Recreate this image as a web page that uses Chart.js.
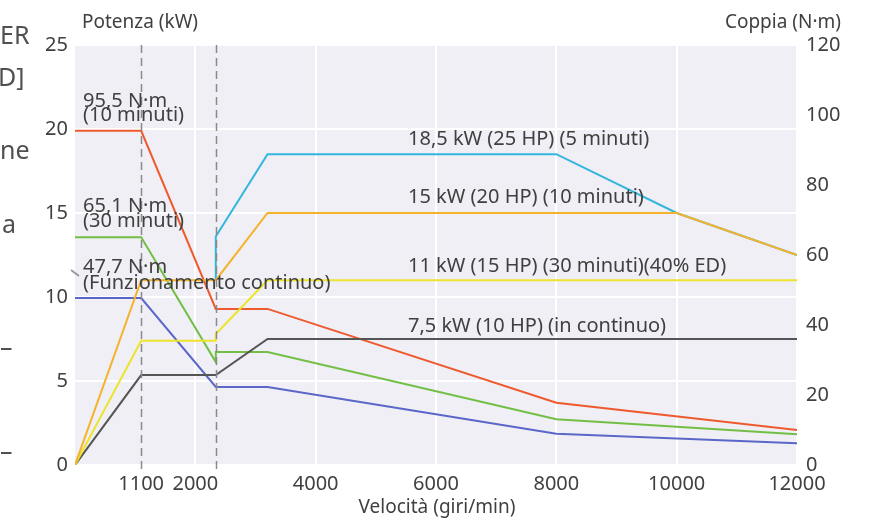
<!DOCTYPE html>
<html>
<head>
<meta charset="utf-8">
<script src="https://cdn.jsdelivr.net/npm/chart.js@4/dist/chart.umd.min.js"></script>
<style>
  html, body { margin: 0; padding: 0; background: #fff; }
  #wrap { position: relative; width: 875px; height: 519px; }
</style>
</head>
<body>
<div id="wrap"><canvas id="motorChart" width="875" height="519"></canvas></div>
<script>
// === dati ===
const speedTicks = [1100, 2000, 4000, 6000, 8000, 10000, 12000];
const dashedSpeeds = [1100, 2340];

// coppia (N·m), asse destro
const torque10Speed = [0, 1100, 2340, 3200, 8000, 12000];
const torque10Nm = [95.5, 95.5, 44.6, 44.6, 17.8, 10.0];
const torque30Speed = [0, 1100, 2340, 2340, 3200, 8000, 12000];
const torque30Nm = [65.1, 65.1, 29.4, 32.3, 32.3, 13.1, 8.8];
const torqueContSpeed = [0, 1100, 2340, 3200, 8000, 12000];
const torqueContNm = [47.7, 47.7, 22.3, 22.3, 8.9, 6.2];

// potenza (kW), asse sinistro
const power5Speed = [2340, 2340, 3200, 8000, 10000, 12000];
const power5Kw = [11.0, 13.6, 18.5, 18.5, 15.0, 12.5];
const power10Speed = [0, 1100, 2340, 3200, 10000, 12000];
const power10Kw = [0, 11.0, 11.0, 15.0, 15.0, 12.5];
const power30Speed = [0, 1100, 2340, 2340, 3200, 12000];
const power30Kw = [0, 7.4, 7.4, 7.8, 11.0, 11.0];
const powerContSpeed = [0, 1100, 2340, 3200, 12000];
const powerContKw = [0, 5.35, 5.35, 7.5, 7.5];

const FONT = "'Noto Sans', 'Open Sans', sans-serif";
const TEXT = "#404040";

function pts(xs, ys) {
    return xs.map((x, i) => ({ x: x, y: ys[i] }));
}

function line(data, color, axis) {
    return {
        data: data,
        borderColor: color,
        borderWidth: 2,
        pointRadius: 0,
        fill: false,
        tension: 0,
        yAxisID: axis,
    };
}

// === sfondo area grafico + linee tratteggiate + testi ===
const decorPlugin = {
    id: "decor",
    beforeDraw(chart) {
        const { ctx, chartArea: a } = chart;
        ctx.save();
        ctx.fillStyle = "#efeff5";
        ctx.fillRect(a.left, a.top, a.right - a.left, a.bottom - a.top);
        ctx.restore();
    },
    afterDatasetsDraw(chart) {
        const { ctx, chartArea: a, scales } = chart;
        ctx.save();
        ctx.strokeStyle = "#8a8a8a";
        ctx.lineWidth = 1.5;
        ctx.setLineDash([8, 5]);
        dashedSpeeds.forEach((s) => {
            const x = Math.round(scales.x.getPixelForValue(s)) + 0.5;
            ctx.beginPath();
            ctx.moveTo(x, a.top);
            ctx.lineTo(x, a.bottom + 4);
            ctx.stroke();
        });
        ctx.setLineDash([]);

        // piccolo segno vicino all'etichetta 47,7
        ctx.strokeStyle = "#9a9a9a";
        ctx.lineWidth = 2;
        ctx.beginPath();
        ctx.moveTo(71, 270);
        ctx.lineTo(79, 276);
        ctx.stroke();

        ctx.fillStyle = TEXT;
        ctx.textBaseline = "alphabetic";
        ctx.textAlign = "left";
        ctx.font = "20px " + FONT;
        const notes = [
            ["95,5 N·m", 83, 107],
            ["(10 minuti)", 83, 121],
            ["65,1 N·m", 83, 212],
            ["(30 minuti)", 83, 227],
            ["47,7 N·m", 83, 273],
            ["(Funzionamento continuo)", 83, 289],
            ["18,5 kW (25 HP) (5 minuti)", 408, 145],
            ["15 kW (20 HP) (10 minuti)", 408, 203],
            ["11 kW (15 HP) (30 minuti)(40% ED)", 408, 272],
            ["7,5 kW (10 HP) (in continuo)", 408, 332],
        ];
        notes.forEach(([t, x, y]) => ctx.fillText(t, x, y));

        // titoli assi
        ctx.font = "19px " + FONT;
        ctx.fillText("Potenza (kW)", 82, 28);
        ctx.textAlign = "right";
        ctx.fillText("Coppia (N·m)", 841, 28);
        ctx.textAlign = "center";
        ctx.fillText("Velocità (giri/min)", 437, 513);

        // frammenti di testo tagliati a sinistra
        ctx.textAlign = "left";
        ctx.fillStyle = "#505050";
        ctx.font = "25px " + FONT;
        ctx.fillText("ER", 0, 44);
        ctx.fillText("D]", -2, 86);
        ctx.fillText("ne", 0, 159);
        ctx.fillText("a", 2, 233);
        ctx.fillText("–", 0, 356);
        ctx.fillText("–", 0, 460);
        ctx.restore();
    },
};

const ctx = document.getElementById("motorChart").getContext("2d");
new Chart(ctx, {
    type: "line",
    data: {
        datasets: [
            line(pts(power10Speed, power10Kw), "#f5b22a", "y"),
            line(pts(power5Speed, power5Kw), "#33b6dd", "y"),
            line(pts(power30Speed, power30Kw), "#ede42c", "y"),
            line(pts(powerContSpeed, powerContKw), "#555555", "y"),
            line(pts(torque10Speed, torque10Nm), "#ee5a2e", "y1"),
            line(pts(torque30Speed, torque30Nm), "#73bf45", "y1"),
            line(pts(torqueContSpeed, torqueContNm), "#5b67c8", "y1"),
        ],
    },
    plugins: [decorPlugin],
    options: {
        responsive: false,
        devicePixelRatio: 1,
        animation: false,
        layout: { padding: { top: 45, left: 0, right: 0, bottom: 0 } },
        plugins: {
            legend: { display: false },
            tooltip: { enabled: false },
        },
        scales: {
            x: {
                type: "linear",
                min: 0,
                max: 12000,
                afterBuildTicks: (s) => {
                    s.ticks = speedTicks.map((v) => ({ value: v }));
                },
                afterFit: (s) => { s.height = 54; },
                border: { display: false },
                grid: {
                    drawTicks: false,
                    lineWidth: 2,
                    color: (c) => (c.tick && c.tick.value === 1100 ? "rgba(0,0,0,0)" : "#ffffff"),
                },
                ticks: {
                    padding: 7,
                    color: TEXT,
                    font: { family: FONT, size: 20 },
                    maxRotation: 0,
                    autoSkip: false,
                    callback: (v) => String(v),
                },
            },
            y: {
                position: "left",
                min: 0,
                max: 25,
                afterFit: (s) => { s.width = 75; },
                border: { display: false },
                grid: { drawTicks: false, lineWidth: 2, color: "#ffffff" },
                ticks: {
                    stepSize: 5,
                    padding: 7,
                    color: TEXT,
                    font: { family: FONT, size: 20 },
                },
            },
            y1: {
                position: "right",
                min: 0,
                max: 120,
                afterFit: (s) => { s.width = 78; },
                border: { display: false },
                grid: { drawOnChartArea: false, drawTicks: false },
                ticks: {
                    stepSize: 20,
                    padding: 9,
                    color: TEXT,
                    font: { family: FONT, size: 20 },
                },
            },
        },
    },
});
</script>
</body>
</html>
